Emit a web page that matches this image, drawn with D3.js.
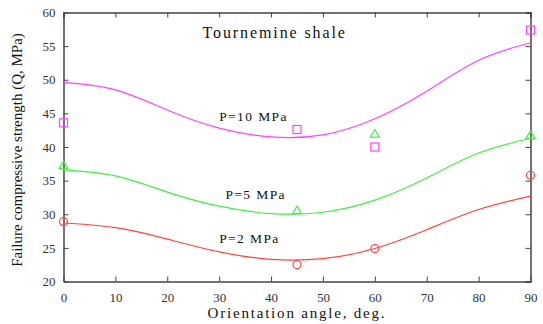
<!DOCTYPE html>
<html>
<head>
<meta charset="utf-8">
<script src="https://cdn.jsdelivr.net/npm/d3@7"></script>
<style>
  body { margin: 0; background: #fff; }
  svg text { font-family: "Liberation Serif", "DejaVu Serif", serif; }
</style>
</head>
<body>
<svg id="chart" width="543" height="324"></svg>
<script>
// fitted curves, every 10 degrees
const angles = [0, 10, 20, 30, 40, 50, 60, 70, 80, 90];
const fit10 = [49.6, 48.5, 45.5, 42.8, 41.5, 41.8, 44.2, 48.3, 52.9, 55.5];
const fit5 = [36.6, 35.7, 33.3, 31.2, 30.1, 30.3, 32.1, 35.4, 39.1, 41.3];
const fit2 = [28.7, 28.0, 26.3, 24.4, 23.3, 23.4, 24.9, 27.7, 30.7, 32.7];

// measured points
const testAngles = [0, 45, 60, 90];
const meas10 = [43.6, 42.6, 40.0, 57.4];
const meas5 = [37.3, 30.6, 42.0, 41.8];
const meas2 = [28.9, 22.5, 24.9, 35.8];

const xTicks = [0, 10, 20, 30, 40, 50, 60, 70, 80, 90];
const yTicks = [20, 25, 30, 35, 40, 45, 50, 55, 60];

const labels = [
  {text: "P=10 MPa", x: 30, y: 43.9},
  {text: "P=5 MPa", x: 31.2, y: 32.2},
  {text: "P=2 MPa", x: 30, y: 25.7},
];

const margin = {left: 63.5, right: 12.5, top: 12.5, bottom: 42.5};
const width = 543 - margin.left - margin.right;
const height = 324 - margin.top - margin.bottom;

const svg = d3.select("#chart");
const g = svg.append("g")
  .attr("transform", "translate(" + margin.left + "," + margin.top + ")");

const x = d3.scaleLinear().domain([0, 90]).range([0, width]);
const y = d3.scaleLinear().domain([20, 60]).range([height, 0]);

const axisColor = "#444";

// axes, ticks pointing inward on all four sides
g.append("g")
  .attr("transform", "translate(0," + height + ")")
  .call(d3.axisBottom(x).tickValues(xTicks).tickSizeInner(-5).tickSizeOuter(0).tickPadding(11));
g.append("g")
  .call(d3.axisLeft(y).tickValues(yTicks).tickSizeInner(-5).tickSizeOuter(0).tickPadding(8));
g.append("g")
  .call(d3.axisTop(x).tickValues(xTicks).tickSize(-5).tickFormat(""));
g.append("g")
  .attr("transform", "translate(" + width + ",0)")
  .call(d3.axisRight(y).tickValues(yTicks).tickSize(-5).tickFormat(""));

g.selectAll(".domain").attr("stroke", axisColor).attr("stroke-width", 1.5);
g.selectAll(".tick line").attr("stroke", axisColor).attr("stroke-width", 1);
g.selectAll(".tick text")
  .attr("fill", "#333")
  .style("font-family", "'Liberation Serif', serif")
  .style("font-size", "13px");

// curves
const line = d3.line()
  .x((d, i) => x(angles[i]))
  .y(d => y(d))
  .curve(d3.curveNatural);

const series = [
  {fit: fit10, meas: meas10, color: "#ff44ff", shape: "square"},
  {fit: fit5, meas: meas5, color: "#44ee44", shape: "triangle"},
  {fit: fit2, meas: meas2, color: "#ff4444", shape: "circle"},
];

series.forEach(s => {
  g.append("path")
    .attr("d", line(s.fit))
    .attr("fill", "none")
    .attr("stroke", s.color)
    .attr("stroke-width", 1.2);
});

// labels with white boxes that cut the curves
labels.forEach(l => {
  const lg = g.append("g");
  const t = lg.append("text")
    .attr("x", x(l.x))
    .attr("y", y(l.y))
    .attr("fill", "#111")
    .style("font-size", "13.5px")
    .style("letter-spacing", "1.4px")
    .text(l.text);
  const bb = t.node().getBBox();
  lg.insert("rect", "text")
    .attr("x", bb.x - 7)
    .attr("y", bb.y - 3)
    .attr("width", bb.width + 10)
    .attr("height", bb.height + 4)
    .attr("fill", "#fff");
});

// markers
series.forEach(s => {
  const pts = g.append("g");
  s.meas.forEach((v, i) => {
    const px = x(testAngles[i]);
    const py = y(v);
    if (s.shape === "square") {
      pts.append("rect").attr("x", px - 4).attr("y", py - 4).attr("width", 8).attr("height", 8)
        .attr("fill", "none").attr("stroke", s.color).attr("stroke-width", 1.2);
    } else if (s.shape === "triangle") {
      pts.append("path")
        .attr("d", "M" + (px - 4.5) + "," + (py + 3.5) + "L" + px + "," + (py - 4) + "L" + (px + 4.5) + "," + (py + 3.5) + "Z")
        .attr("fill", "none").attr("stroke", s.color).attr("stroke-width", 1.2);
    } else {
      pts.append("circle").attr("cx", px).attr("cy", py).attr("r", 4)
        .attr("fill", "none").attr("stroke", s.color).attr("stroke-width", 1.2);
    }
  });
});

// title
g.append("text")
  .attr("x", 139)
  .attr("y", 25)
  .attr("fill", "#111")
  .style("font-size", "16px")
  .style("letter-spacing", "1.9px")
  .text("Tournemine shale");

// axis titles
svg.append("text")
  .attr("x", margin.left + width / 2)
  .attr("y", 318)
  .attr("text-anchor", "middle")
  .attr("fill", "#111")
  .style("font-size", "15px")
  .style("letter-spacing", "1.8px")
  .text("Orientation angle, deg.");

svg.append("text")
  .attr("transform", "translate(22," + (margin.top + height / 2 + 3) + ") rotate(-90)")
  .attr("text-anchor", "middle")
  .attr("fill", "#111")
  .style("font-size", "15px")
  .text("Failure compressive strength (Q, MPa)");
</script>
</body>
</html>
